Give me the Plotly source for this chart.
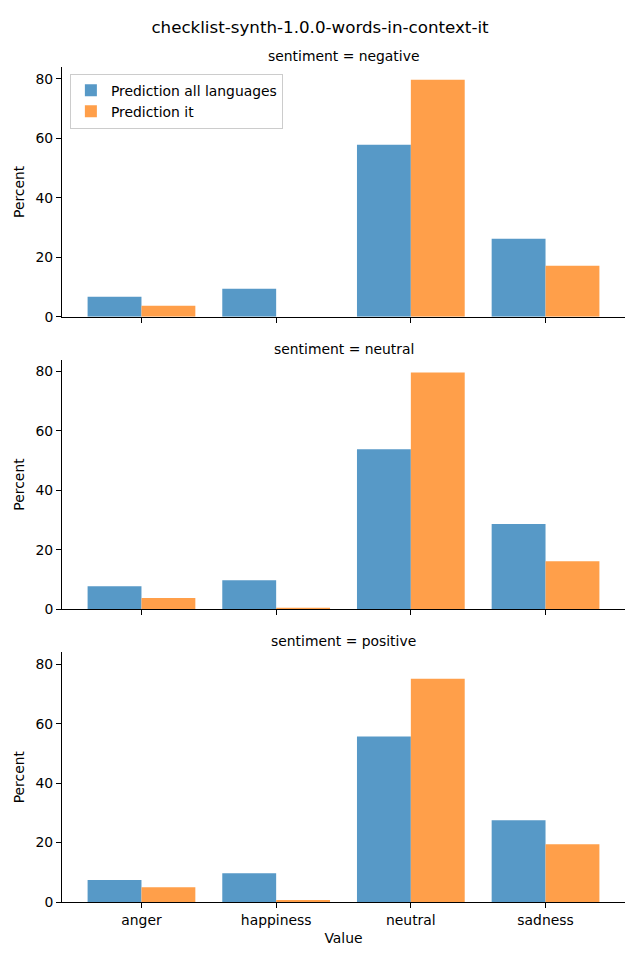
import plotly.graph_objects as go
from plotly.subplots import make_subplots

categories = ["anger", "happiness", "neutral", "sadness"]
sentiments = ["negative", "neutral", "positive"]

all_languages = {
    "negative": [6.7, 9.4, 57.8, 26.2],
    "neutral": [7.8, 9.8, 53.9, 28.7],
    "positive": [7.4, 9.7, 55.7, 27.5],
}
pred_it = {
    "negative": [3.7, 0.0, 79.7, 17.1],
    "neutral": [3.8, 0.4, 79.7, 16.2],
    "positive": [5.0, 0.7, 75.1, 19.4],
}

blue = "rgb(87,153,199)"
orange = "rgb(255,159,74)"
font = "DejaVu Sans"
fs = 13.9

fig = make_subplots(
    rows=3, cols=1, shared_xaxes=True, vertical_spacing=0.0515,
    subplot_titles=[f"sentiment = {s}" for s in sentiments],
)

for i, s in enumerate(sentiments):
    r = i + 1
    fig.add_trace(go.Bar(x=categories, y=all_languages[s], name="Prediction all languages",
                         marker=dict(color=blue, line=dict(width=0)),
                         showlegend=(i == 0), legendgroup="a"), row=r, col=1)
    fig.add_trace(go.Bar(x=categories, y=pred_it[s], name="Prediction it",
                         marker=dict(color=orange, line=dict(width=0)),
                         showlegend=(i == 0), legendgroup="b"), row=r, col=1)
    fig.update_yaxes(range=[0, 84], tickvals=[0, 20, 40, 60, 80], title_text="Percent",
                     title_font=dict(size=fs), title_standoff=7,
                     showline=True, linecolor="black", linewidth=1, ticks="outside",
                     ticklen=5, tickcolor="black", showgrid=False, zeroline=False,
                     tickfont=dict(size=fs), row=r, col=1)
    fig.update_xaxes(range=[-0.59, 3.59], showline=True, linecolor="black", linewidth=1,
                     ticks="outside", ticklen=5, tickcolor="black", showgrid=False,
                     tickfont=dict(size=fs), row=r, col=1)

fig.update_xaxes(title_text="Value", title_font=dict(size=fs), title_standoff=6, row=3, col=1)

for ann in fig.layout.annotations:
    ann.font = dict(size=fs, family=font, color="black")
    ann.yshift = 1

fig.update_layout(
    width=640, height=960,
    margin=dict(l=62, r=15, t=67, b=58),
    barmode="group", bargap=0.2, bargroupgap=0,
    plot_bgcolor="white", paper_bgcolor="white",
    font=dict(family=font, size=fs, color="black"),
    title=dict(text="checklist-synth-1.0.0-words-in-context-it", x=0.5, xanchor="center",
               y=1 - 27 / 960, yanchor="middle", font=dict(size=16.7, family=font)),
    legend=dict(x=0.014, y=0.992, xanchor="left", yanchor="top",
                bordercolor="rgb(204,204,204)", borderwidth=1, bgcolor="rgba(255,255,255,0.8)",
                font=dict(size=fs), tracegroupgap=0, itemwidth=30),
)

fig.write_html("out.html", config={"displayModeBar": False},
               post_script="document.body.style.margin='0';document.body.style.padding='0';")
